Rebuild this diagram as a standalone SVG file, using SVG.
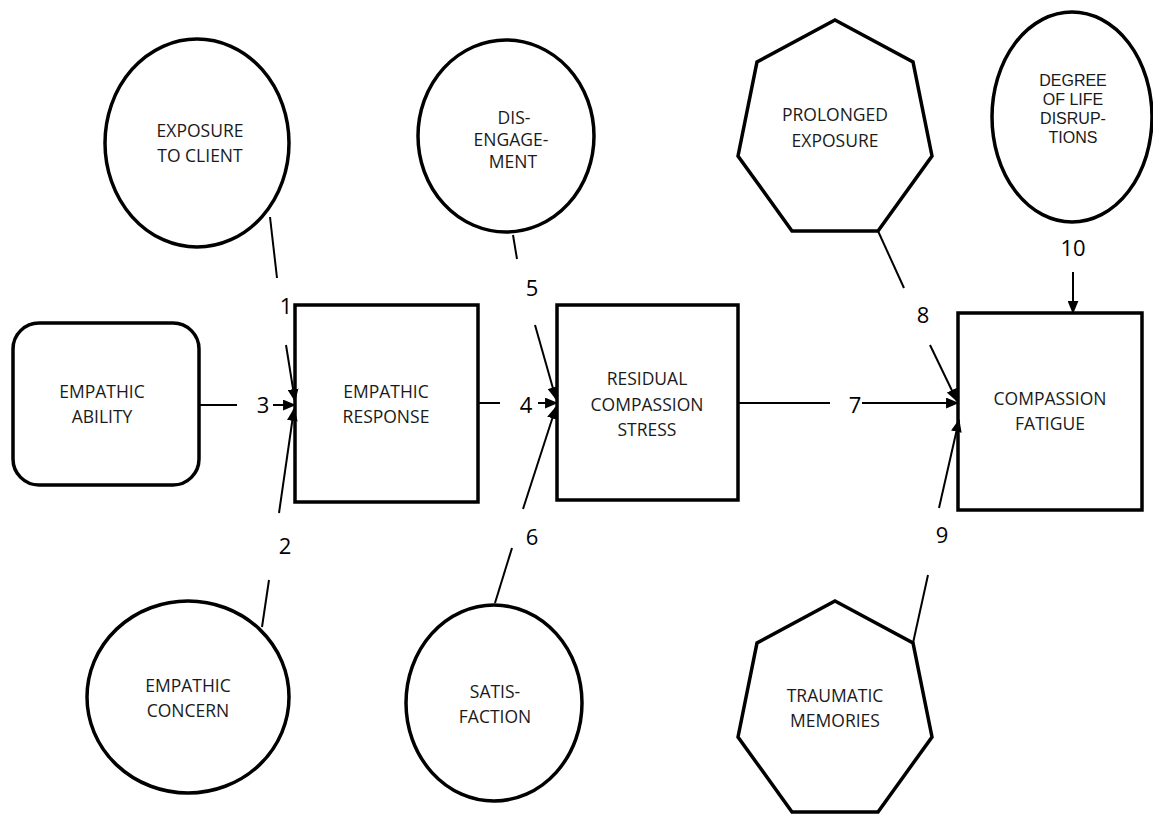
<svg xmlns="http://www.w3.org/2000/svg" width="1153" height="816" viewBox="0 0 1153 816">
<style>
.n{fill:#fff;stroke:#000;stroke-width:3.5}
.t{font-family:"Open Sans","Liberation Sans",sans-serif;font-size:17.5px;fill:#1a1a1a;text-anchor:middle}
.s{font-family:"Liberation Sans","Open Sans",sans-serif;font-size:16px}
.l{font-family:"Open Sans","Liberation Sans",sans-serif;font-size:22px;fill:#000;text-anchor:middle}
.c{stroke:#000;stroke-width:2;fill:none}
.a{stroke:#000;stroke-width:2;fill:none;marker-end:url(#ah)}
</style>
<defs>
<marker id="ah" viewBox="0 0 12 10" refX="11" refY="5" markerWidth="13" markerHeight="11" markerUnits="userSpaceOnUse" orient="auto">
<path d="M0,0 L12,5 L0,10 Z" fill="#000"/>
</marker>
</defs>
<rect width="1153" height="816" fill="#fff"/>
<g id="exposure">
<ellipse class="n" cx="197" cy="143" rx="92" ry="104"/>
<text class="t" x="200" y="137">EXPOSURE</text>
<text class="t" x="200" y="162">TO CLIENT</text>
</g>
<g id="disengagement">
<ellipse class="n" cx="506" cy="136" rx="88" ry="96"/>
<text class="t" x="514" y="124">DIS-</text>
<text class="t" x="511" y="146">ENGAGE-</text>
<text class="t" x="513" y="168">MENT</text>
</g>
<g id="prolonged">
<polygon class="n" points="835,20 913,62 932,156 878,231 792,231 738,156 757,62"/>
<text class="t" x="835" y="121">PROLONGED</text>
<text class="t" x="835" y="147">EXPOSURE</text>
</g>
<g id="degree">
<ellipse class="n" cx="1072" cy="117" rx="80" ry="105"/>
<text class="t s" x="1073" y="86">DEGREE</text>
<text class="t s" x="1073" y="105">OF LIFE</text>
<text class="t s" x="1073" y="124">DISRUP-</text>
<text class="t s" x="1073" y="143">TIONS</text>
</g>
<g id="ability">
<rect class="n" x="13" y="323" width="186" height="162" rx="26"/>
<text class="t" x="102" y="398">EMPATHIC</text>
<text class="t" x="102" y="423">ABILITY</text>
</g>
<g id="response">
<rect class="n" x="295" y="305" width="183" height="197"/>
<text class="t" x="386" y="398">EMPATHIC</text>
<text class="t" x="386" y="423">RESPONSE</text>
</g>
<g id="residual">
<rect class="n" x="557" y="305" width="181" height="195"/>
<text class="t" x="647" y="385">RESIDUAL</text>
<text class="t" x="647" y="411">COMPASSION</text>
<text class="t" x="647" y="436">STRESS</text>
</g>
<g id="fatigue">
<rect class="n" x="958" y="313" width="184" height="197"/>
<text class="t" x="1050" y="405">COMPASSION</text>
<text class="t" x="1050" y="430">FATIGUE</text>
</g>
<g id="concern">
<ellipse class="n" cx="188" cy="697" rx="101" ry="96"/>
<text class="t" x="188" y="692">EMPATHIC</text>
<text class="t" x="188" y="717">CONCERN</text>
</g>
<g id="satisfaction">
<ellipse class="n" cx="494" cy="703" rx="88" ry="98"/>
<text class="t" x="495" y="698">SATIS-</text>
<text class="t" x="495" y="723">FACTION</text>
</g>
<g id="traumatic">
<polygon class="n" points="835,601 913,643 932,737 878,812 792,812 738,737 757,643"/>
<text class="t" x="835" y="702">TRAUMATIC</text>
<text class="t" x="835" y="727">MEMORIES</text>
</g>
<g id="connectors">
<line class="c" x1="270" y1="217" x2="277" y2="278"/>
<line class="a" x1="286" y1="345" x2="295" y2="401"/>
<line class="c" x1="262" y1="627" x2="269" y2="580"/>
<line class="a" x1="279" y1="513" x2="294" y2="409"/>
<line class="c" x1="199" y1="405" x2="237" y2="405"/>
<line class="a" x1="273" y1="405" x2="295" y2="405"/>
<line class="c" x1="478" y1="403" x2="500" y2="403"/>
<line class="a" x1="538" y1="403" x2="557" y2="403"/>
<line class="c" x1="513" y1="235" x2="517" y2="259"/>
<line class="a" x1="535" y1="325" x2="556" y2="399"/>
<line class="c" x1="495" y1="603" x2="512" y2="548"/>
<line class="a" x1="523" y1="509" x2="556" y2="407"/>
<line class="c" x1="738" y1="403" x2="830" y2="403"/>
<line class="a" x1="862" y1="403" x2="958" y2="403"/>
<line class="c" x1="878" y1="231" x2="904" y2="288"/>
<line class="a" x1="930" y1="345" x2="957" y2="401"/>
<line class="c" x1="913" y1="643" x2="928" y2="575"/>
<line class="a" x1="939" y1="508" x2="959" y2="420"/>
<line class="a" x1="1073" y1="272" x2="1073" y2="313"/>
<text class="l" x="286" y="314">1</text>
<text class="l" x="285" y="554">2</text>
<text class="l" x="263" y="413">3</text>
<text class="l" x="526" y="413">4</text>
<text class="l" x="532" y="296">5</text>
<text class="l" x="532" y="545">6</text>
<text class="l" x="855" y="413">7</text>
<text class="l" x="923" y="323">8</text>
<text class="l" x="942" y="543">9</text>
<text class="l" x="1073" y="256">10</text>
</g>
</svg>
